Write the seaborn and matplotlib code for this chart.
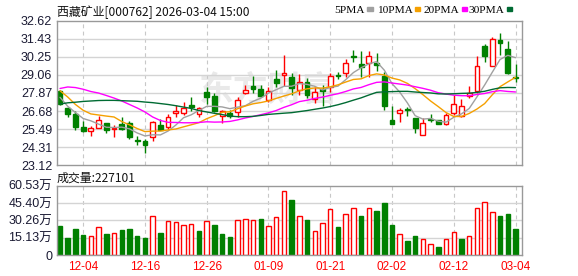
import numpy as np
import pandas as pd
import matplotlib
matplotlib.use("Agg")
import matplotlib.pyplot as plt
from matplotlib.patches import Rectangle
import seaborn as sns

# ---------------- data ----------------
dates = ["12-01", "12-02", "12-03", "12-04", "12-05", "12-08", "12-09", "12-10", "12-11", "12-12",
         "12-15", "12-16", "12-17", "12-18", "12-19", "12-22", "12-23", "12-24", "12-25", "12-26",
         "12-29", "12-30", "12-31", "01-05", "01-06", "01-07", "01-08", "01-09", "01-12", "01-13",
         "01-14", "01-15", "01-16", "01-19", "01-20", "01-21", "01-22", "01-23", "01-26", "01-27",
         "01-28", "01-29", "01-30", "02-02", "02-03", "02-04", "02-05", "02-06", "02-09", "02-10",
         "02-11", "02-12", "02-13", "02-24", "02-25", "02-26", "02-27", "03-02", "03-03", "03-04"]

opens = [28.01, 26.90, 26.49, 25.63, 25.35, 25.59, 25.88, 25.52, 25.83, 25.92,
         24.76, 24.73, 25.00, 25.76, 25.65, 26.55, 26.57, 27.06, 26.49, 27.91,
         27.66, 26.33, 26.57, 26.64, 27.88, 28.34, 28.13, 27.40, 28.76, 29.02,
         28.89, 28.04, 28.57, 27.49, 28.11, 28.28, 29.06, 29.15, 30.29, 29.76,
         29.81, 29.85, 29.00, 26.09, 26.53, 26.82, 26.20, 25.09, 26.14, 26.09,
         25.85, 26.53, 26.35, 27.69, 28.01, 30.97, 29.65, 31.34, 30.75, 28.93]
highs = [28.08, 26.92, 26.68, 26.03, 25.72, 26.35, 25.90, 25.76, 26.27, 26.00,
         25.04, 24.87, 26.05, 26.14, 26.49, 27.06, 27.29, 27.62, 26.92, 28.24,
         27.84, 26.72, 26.75, 27.58, 28.37, 28.98, 28.41, 28.28, 29.37, 30.36,
         29.15, 29.11, 28.87, 28.24, 28.39, 29.19, 29.26, 30.09, 30.68, 30.62,
         30.62, 30.47, 29.24, 27.01, 26.86, 26.96, 26.24, 26.20, 26.49, 26.12,
         26.57, 27.73, 27.47, 28.32, 30.29, 31.05, 31.52, 31.82, 31.27, 29.77]
lows = [27.05, 26.31, 25.44, 25.28, 25.06, 25.55, 25.26, 24.96, 25.45, 24.85,
        24.43, 23.95, 24.73, 25.42, 25.44, 26.27, 26.44, 26.68, 26.31, 27.12,
        26.62, 25.88, 26.24, 26.31, 27.78, 27.84, 27.62, 27.25, 28.28, 28.32,
        27.73, 27.73, 27.51, 27.23, 27.01, 27.95, 28.76, 28.93, 29.88, 28.89,
        28.93, 29.33, 26.75, 25.82, 25.98, 26.35, 25.26, 25.09, 25.96, 25.82,
        25.76, 26.42, 26.27, 27.51, 27.84, 29.92, 29.65, 30.36, 29.11, 28.60]
closes = [27.14, 26.47, 25.65, 25.37, 25.55, 26.07, 25.44, 25.57, 25.48, 25.00,
          24.72, 24.45, 25.96, 25.44, 26.27, 26.68, 26.86, 26.92, 26.89, 27.58,
          26.70, 26.66, 26.35, 27.38, 28.06, 28.13, 27.69, 27.99, 28.54, 29.15,
          28.17, 28.57, 27.71, 27.91, 27.97, 29.00, 28.98, 29.81, 30.25, 29.55,
          30.29, 29.72, 27.01, 25.85, 26.75, 26.72, 25.55, 25.88, 26.07, 25.85,
          26.40, 27.14, 27.01, 27.84, 29.63, 30.31, 31.38, 31.16, 29.19, 28.87]
# volume in 万 (10k)
volumes = [25.3, 14.8, 22.7, 17.5, 16.3, 24.2, 18.3, 19.2, 21.8, 22.7,
           16.6, 14.8, 34.1, 19.2, 29.7, 28.5, 25.9, 26.8, 21.0, 29.7,
           26.2, 18.3, 15.7, 30.3, 31.2, 30.3, 31.4, 25.1, 32.9, 55.6,
           48.0, 34.1, 30.6, 21.0, 28.0, 40.2, 24.5, 35.8, 41.0, 34.1,
           41.0, 38.4, 45.4, 26.2, 18.3, 12.2, 16.6, 13.7, 9.3, 7.0,
           13.7, 20.1, 14.0, 16.3, 40.8, 46.0, 37.3, 34.1, 35.8, 22.71]

# moving-average values visible before a full window of closes exists
ma5_head = [27.58, 26.99, 26.58, 26.19]
ma10_head = [28.01, 27.60, 27.11, 26.73, 26.49, 26.42, 26.35, 26.29, 25.99]
ma20_head = [28.16, 28.26, 28.22, 28.11, 27.96, 27.86, 27.70, 27.53, 27.34, 27.11,
             26.88, 26.62, 26.29, 26.06, 25.94, 25.93, 25.91, 25.91, 25.93]
ma30_head = [27.14, 27.22, 27.26, 27.31, 27.34, 27.37, 27.38, 27.38, 27.36, 27.34,
             27.32, 27.27, 27.23, 27.17, 27.11, 27.03, 26.94, 26.85, 26.71, 26.62,
             26.53, 26.45, 26.35, 26.31, 26.31, 26.33, 26.39, 26.46, 26.50]

price_ticks = [23.12, 24.31, 25.49, 26.68, 27.87, 29.06, 30.25, 31.43, 32.62]
price_labels = ["23.12", "24.31", "25.49", "26.68", "27.87", "29.06", "30.25", "31.43", "32.62"]
vol_ticks = [0, 15.13, 30.26, 45.40, 60.53]
vol_labels = ["0", "15.13万", "30.26万", "45.40万", "60.53万"]
date_ticks = ["12-04", "12-16", "12-26", "01-09", "01-21", "02-02", "02-12", "03-04"]

title = "西藏矿业[000762] 2026-03-04 15:00"
vol_title = "成交量:227101"
ma_names = ["5PMA", "10PMA", "20PMA", "30PMA"]

# ---------------- styling ----------------
sns.set_theme(style="white")
plt.rcParams["font.family"] = ["Liberation Sans", "Noto Sans CJK SC", "DejaVu Sans"]

RED = "#ff0000"
GREEN = "#008000"
MA_COLORS = ["#a0a0a0", "#f5a000", "#ff00ff", "#006b33"]
GRID = "#d4d4d4"
SPINE = "#999999"
LABEL = "#1a1a33"

df = pd.DataFrame({"open": opens, "high": highs, "low": lows, "close": closes, "vol": volumes})
df["x"] = np.arange(len(df))
for n, head in zip([5, 10, 20, 30], [ma5_head, ma10_head, ma20_head, ma30_head]):
    s = df["close"].rolling(n).mean()
    s.iloc[:len(head)] = head
    df[f"ma{n}"] = s

up = df["close"] >= df["open"]
prev_close = df["close"].shift(1)
vol_up = (df["close"] >= prev_close).where(prev_close.notna(), up)

W, H = 578, 276
fig = plt.figure(figsize=(W / 100, H / 100), dpi=100)
left_px, right_px = 57, 522
ax = fig.add_axes([left_px / W, 1 - 165.3 / H, (right_px - left_px) / W, 144.8 / H])
axv = fig.add_axes([left_px / W, 1 - 255 / H, (right_px - left_px) / W, 69.3 / H])

xlim = (-0.39, 59.84)
tick_pos = [dates.index(d) for d in date_ticks]

for a in (ax, axv):
    a.set_xlim(*xlim)
    for sp in a.spines.values():
        sp.set_color(SPINE)
        sp.set_linewidth(1.0)
    a.tick_params(length=0)
    for tp in tick_pos:
        a.axvline(tp, color="#c8c8c8", lw=0.8, ls=(0, (3.5, 3)), zorder=0.5)

# watermark
ax.text(0.455, 0.52, "东方财富", transform=ax.transAxes, fontsize=25, fontweight="bold",
        color="#e9e9e9", ha="center", va="center", family=["Noto Sans CJK SC"], zorder=0.4)

# price grid
ax.set_ylim(price_ticks[0], price_ticks[-1])
for t in price_ticks[1:-1]:
    ax.axhline(t, color=GRID, lw=1.0, zorder=0.6)

# candles
colors = np.where(up, RED, GREEN)
faces = np.where(up, "white", GREEN)
ax.vlines(df["x"], df["low"], df["high"], colors=colors, lw=1.0, zorder=2)
body_h = np.maximum((df["close"] - df["open"]).abs(), 0.015)
body_b = np.minimum(df["close"], df["open"])
ax.bar(df["x"], body_h, bottom=body_b, width=0.62, color=faces, edgecolor=colors,
       linewidth=1.0, zorder=2.5)

# moving averages
for n, c in zip([5, 10, 20, 30], MA_COLORS):
    sns.lineplot(data=df, x="x", y=f"ma{n}", ax=ax, color=c, lw=1.0, zorder=3, legend=False)

ax.set_xlabel("")
ax.set_ylabel("")
ax.set_xticks(tick_pos)
ax.set_xticklabels([])
ax.set_yticks(price_ticks)
ax.set_yticklabels(price_labels, fontsize=9, color=LABEL)
ax.tick_params(axis="y", pad=3.5)

# volume
axv.set_ylim(vol_ticks[0], vol_ticks[-1])
for t in vol_ticks[1:-1]:
    axv.axhline(t, color=GRID, lw=1.0, zorder=0.6)
vcolors = np.where(vol_up, RED, GREEN)
vfaces = np.where(vol_up, "white", GREEN)
axv.bar(df["x"], df["vol"], width=0.58, color=vfaces, edgecolor=vcolors, linewidth=1.0, zorder=2)
axv.set_yticks(vol_ticks)
axv.set_yticklabels(vol_labels, fontsize=9, color=LABEL)
axv.tick_params(axis="y", pad=3.5)
axv.set_xticks(tick_pos)
axv.set_xticklabels(date_ticks, fontsize=8.5, color=RED)
axv.tick_params(axis="x", pad=4)

# texts
fig.text(57 / W, 1 - 16.5 / H, title, fontsize=8.6, family=["Noto Sans CJK SC", "DejaVu Sans"],
         color="#111111", va="baseline")
fig.text(57 / W, 1 - 182 / H, vol_title, fontsize=8.6, family=["Noto Sans CJK SC", "DejaVu Sans"],
         color="#111111", va="baseline")

square_x = [367.3, 415, 461.7, 506.7]
for name, sx, c in zip(ma_names, square_x, MA_COLORS):
    fig.text((sx - 2.5) / W, 1 - 13 / H, name, fontsize=8.2, family=["Liberation Serif"],
             color="#000000", va="baseline", ha="right")
    fig.patches.append(Rectangle((sx / W, 1 - 10.5 / H), 5.3 / W, 3.2 / H,
                                 transform=fig.transFigure, color=c, figure=fig))

fig.savefig("out.png", dpi=100)
